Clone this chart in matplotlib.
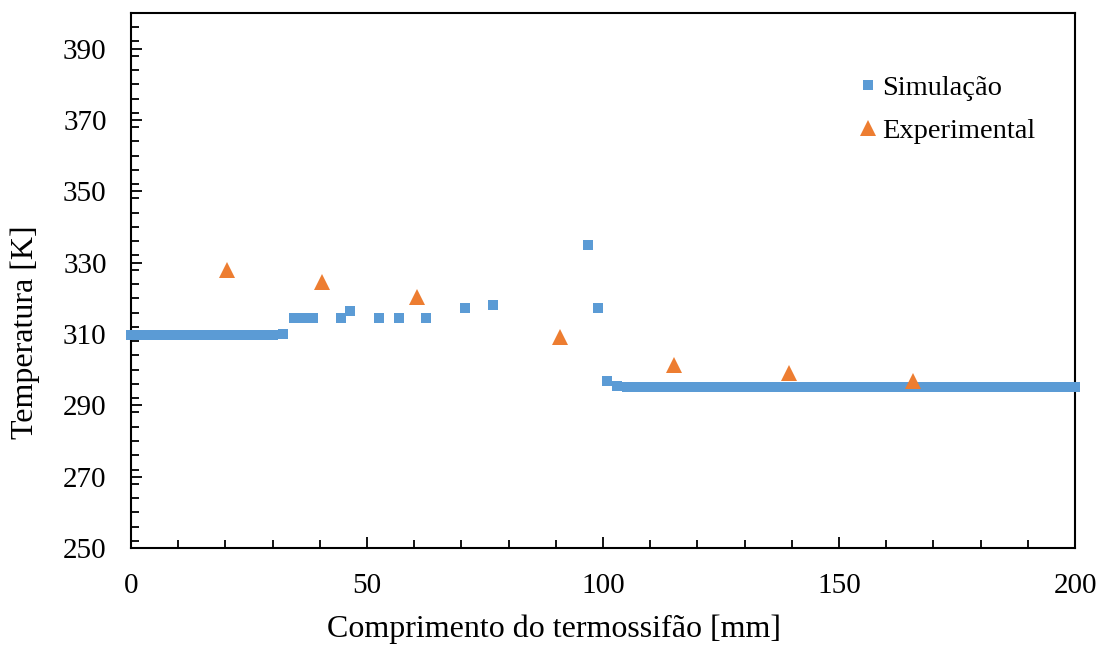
import matplotlib
matplotlib.use("Agg")
import matplotlib.pyplot as plt
from matplotlib.ticker import MultipleLocator

plt.rcParams['font.family'] = ['Liberation Serif', 'DejaVu Serif']

# Simulated temperature profile along the thermosyphon
sim_x = [0, 2, 4, 6, 8, 10, 12, 14, 16, 18, 20, 22, 24, 26, 28, 30,
         32.3, 34.5, 36.5, 38.5, 44.4, 46.4, 52.5, 56.7, 62.6, 70.7, 76.7,
         96.9, 98.9, 100.9, 103.0,
         105, 107, 109, 111, 113, 115, 117, 119, 121, 123, 125, 127, 129,
         131, 133, 135, 137, 139, 141, 143, 145, 147, 149, 151, 153, 155,
         157, 159, 161, 163, 165, 167, 169, 171, 173, 175, 177, 179, 181,
         183, 185, 187, 189, 191, 193, 195, 197, 199, 200]
sim_y = [309.8, 309.6, 309.6, 309.6, 309.6, 309.6, 309.6, 309.6, 309.6,
         309.6, 309.6, 309.6, 309.6, 309.6, 309.6, 309.6,
         310.0, 314.6, 314.6, 314.6, 314.6, 316.4, 314.6, 314.6, 314.6,
         317.4, 318.2,
         334.8, 317.4, 296.9, 295.5,
         295.2, 295.1, 295.1, 295.1, 295.1, 295.1, 295.1, 295.1, 295.1,
         295.1, 295.1, 295.1, 295.1, 295.1, 295.1, 295.1, 295.1, 295.1,
         295.1, 295.1, 295.1, 295.1, 295.1, 295.1, 295.1, 295.1, 295.1,
         295.1, 295.1, 295.1, 295.1, 295.1, 295.1, 295.1, 295.1, 295.1,
         295.1, 295.1, 295.1, 295.1, 295.1, 295.1, 295.1, 295.1, 295.1,
         295.1, 295.1, 295.1, 295.1]

# Measured temperatures (thermocouples)
exp_x = [20.3, 40.5, 60.7, 90.9, 115.1, 139.3, 165.6]
exp_y = [328.0, 324.5, 320.4, 309.2, 301.2, 299.0, 296.8]

blue = '#5B9BD5'
orange = '#ED7D31'

fig = plt.figure(figsize=(11.06, 6.45), dpi=100)
ax = fig.add_axes([0.1184, 0.1504, 0.8536, 0.8296])

ax.plot(sim_x, sim_y, linestyle='none', marker='s', markersize=6.5,
        color=blue, markeredgewidth=0, label='Simulação', clip_on=False,
        zorder=3)
ax.plot(exp_x, exp_y, linestyle='none', marker='^', markersize=11,
        color=orange, markeredgewidth=0, label='Experimental', zorder=4)

ax.set_xlim(0, 200)
ax.set_ylim(250, 400)
ax.xaxis.set_major_locator(MultipleLocator(50))
ax.xaxis.set_minor_locator(MultipleLocator(10))
ax.set_yticks(range(250, 391, 20))
ax.yaxis.set_minor_locator(MultipleLocator(4))

ax.tick_params(which='both', direction='in', top=False, right=False,
               width=1.3, labelsize=21, colors='black')
ax.tick_params(which='major', length=8)
ax.tick_params(which='minor', length=6)
ax.tick_params(axis='x', which='major', pad=18)
ax.tick_params(axis='y', which='major', pad=17.5)
for s in ax.spines.values():
    s.set_linewidth(1.5)
    s.set_color('black')

ax.set_xlabel('Comprimento do termossifão [mm]', fontsize=23)
ax.xaxis.set_label_coords(0.448, -0.125)
ax.set_ylabel('Temperatura [K]', fontsize=23)
ax.yaxis.set_label_coords(-0.096, 0.404)

leg = ax.legend(loc='upper left', bbox_to_anchor=(0.76, 0.905), frameon=False,
                fontsize=20.5, handlelength=0.6, handletextpad=0.2,
                labelspacing=0.6, borderaxespad=0)

fig.savefig('out.png', dpi=100)
